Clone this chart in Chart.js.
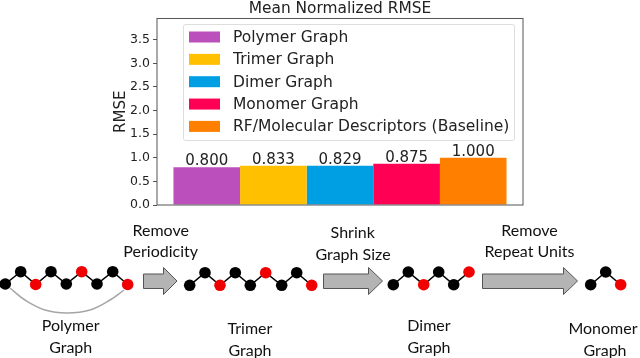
<!DOCTYPE html>
<html>
<head>
<meta charset="utf-8">
<script src="https://cdn.jsdelivr.net/npm/chart.js@4"></script>
<style>
html, body { margin: 0; padding: 0; background: #fff; }
#wrap { position: relative; width: 640px; height: 358px; overflow: hidden; }
canvas { position: absolute; left: 0; top: 0; }
.lbl { position: absolute; transform: translate(-50%, -50%); font: 16px Lato, sans-serif; color: #111; white-space: nowrap; }
</style>
</head>
<body>
<div id="wrap">
  <canvas id="bar_chart" width="640" height="358"></canvas>
  <canvas id="graph_chart" width="640" height="358"></canvas>
</div>
<script>
// bar chart data
const seriesNames = ['Polymer Graph', 'Trimer Graph', 'Dimer Graph', 'Monomer Graph', 'RF/Molecular Descriptors (Baseline)'];
const seriesValues = [0.800, 0.833, 0.829, 0.875, 1.000];
const seriesColors = ['#BB4FBB', '#FFC000', '#009FE3', '#FF0055', '#FF8000'];

// molecule graphs (page pixels)
const polymerX = [5.3, 20.7, 35.7, 51, 66.3, 81.7, 97, 112.7, 127.7];
const polymerY = [284, 271.7, 284.5, 271.7, 284, 271.7, 284, 271.7, 284.5];
const polymerRed = [2, 5, 8];
const trimerX = [189.7, 205, 220, 235.3, 250.3, 265.7, 281.7, 296.7, 311.7];
const trimerY = [285.3, 272.7, 285.3, 272.7, 285.3, 272.7, 285.3, 272.7, 285.3];
const trimerRed = [2, 5, 8];
const dimerX = [393.3, 408.3, 423.7, 438.7, 453.7, 469];
const dimerY = [284.7, 272, 284.7, 272, 284.7, 272];
const dimerRed = [2, 5];
const monomerX = [590.7, 605.7, 620.7];
const monomerY = [284.7, 272, 284.7];
const monomerRed = [2];
const loopX = [10, 25, 45, 67, 90, 110, 124];
const loopY = [288, 300, 310, 313, 310, 300, 290];

const captions = [
  ['Remove', 160.7, 229], ['Periodicity', 160.7, 250],
  ['Polymer', 70.7, 324], ['Graph', 70.7, 345.5],
  ['Trimer', 250, 326.5], ['Graph', 250, 348.5],
  ['Shrink', 352.7, 231], ['Graph Size', 353, 252.5],
  ['Dimer', 429, 324], ['Graph', 429, 345.5],
  ['Remove', 529.5, 229], ['Repeat Units', 529.5, 250],
  ['Monomer', 603, 326.5], ['Graph', 605, 348.5]
];

function barFrame(chart) {
  const a = chart.chartArea, ctx = chart.ctx;
  ctx.save();
  ctx.strokeStyle = '#555';
  ctx.lineWidth = 1;
  ctx.strokeRect(a.left, a.top, a.right - a.left, a.bottom - a.top);
  ctx.restore();
}

const barExtras = {
  id: 'barExtras',
  afterDatasetsDraw(chart) {
    const ctx = chart.ctx;
    barFrame(chart);
    ctx.save();
    // value labels
    ctx.fillStyle = '#222';
    ctx.font = '15px "DejaVu Sans"';
    ctx.textAlign = 'center';
    ctx.textBaseline = 'bottom';
    chart.data.datasets.forEach((ds, i) => {
      const bar = chart.getDatasetMeta(i).data[0];
      ctx.fillText(ds.data[0].toFixed(3), bar.x, bar.y + 1.5);
    });
    // legend inside the axes
    ctx.fillStyle = '#fff';
    ctx.strokeStyle = '#ddd';
    ctx.beginPath();
    ctx.roundRect(183.5, 24.5, 331, 116, 2);
    ctx.fill();
    ctx.stroke();
    ctx.font = '15.5px "DejaVu Sans"';
    ctx.textAlign = 'left';
    ctx.textBaseline = 'middle';
    chart.data.datasets.forEach((ds, i) => {
      const y = 37 + i * 22.35;
      ctx.fillStyle = ds.backgroundColor;
      ctx.fillRect(189, y - 5.5, 31, 11);
      ctx.fillStyle = '#222';
      ctx.fillText(ds.label, 233, y + 1);
    });
    ctx.restore();
  }
};

new Chart(document.getElementById('bar_chart'), {
  type: 'bar',
  data: {
    labels: [''],
    datasets: seriesNames.map((name, i) => ({
      label: name,
      data: [seriesValues[i]],
      backgroundColor: seriesColors[i]
    }))
  },
  options: {
    responsive: false,
    animation: false,
    events: [],
    barPercentage: 1,
    categoryPercentage: 0.91,
    layout: { padding: { left: 112, right: 117, top: 0, bottom: 153 } },
    plugins: {
      legend: { display: false },
      tooltip: { enabled: false },
      title: {
        display: true,
        fullSize: false,
        text: 'Mean Normalized RMSE',
        color: '#222',
        font: { family: 'DejaVu Sans', size: 15.4, weight: 'normal' },
        padding: { top: 0, bottom: 0 }
      }
    },
    scales: {
      x: {
        ticks: { display: false },
        grid: { display: false },
        border: { display: false },
        afterFit(s) { s.height = 0; }
      },
      y: {
        min: 0,
        max: 3.95,
        afterFit(s) { s.width = 45; },
        title: {
          display: true,
          text: 'RMSE',
          color: '#222',
          font: { family: 'DejaVu Sans', size: 15 },
          padding: 0
        },
        border: { display: false },
        grid: { drawOnChartArea: false, tickLength: 4, color: '#555' },
        ticks: {
          stepSize: 0.5,
          includeBounds: false,
          color: '#222',
          padding: 3,
          font: { family: 'DejaVu Sans', size: 12.5 },
          callback: v => v.toFixed(1)
        }
      }
    }
  },
  plugins: [barExtras]
});

function xy(xs, ys) {
  return xs.map((x, i) => ({ x: x, y: ys[i] }));
}

function moleculeSet(xs, ys, red) {
  return {
    data: xy(xs, ys),
    showLine: true,
    borderColor: '#000',
    borderWidth: 1.5,
    pointRadius: 5.8,
    pointBorderWidth: 0,
    pointBackgroundColor: xs.map((x, i) => red.includes(i) ? '#F00000' : '#000')
  };
}

function arrowSet(x0, x1, x2) {
  // grey block arrow: tail, shoulder, tip
  return {
    data: xy([x0, x1, x1, x2, x1, x1, x0, x0], [274, 274, 267.5, 281, 294.5, 288.5, 288.5, 274]),
    showLine: true,
    fill: 'shape',
    backgroundColor: '#B4B4B4',
    borderColor: '#555',
    borderWidth: 1,
    pointRadius: 0
  };
}

new Chart(document.getElementById('graph_chart'), {
  type: 'scatter',
  data: {
    datasets: [
      { data: xy(loopX, loopY), showLine: true, tension: 0.4, borderColor: '#A6A6A6', borderWidth: 1.5, pointRadius: 0 },
      arrowSet(143.5, 163.5, 177),
      arrowSet(323.5, 368.5, 382.5),
      arrowSet(482.5, 563.5, 577.5),
      moleculeSet(polymerX, polymerY, polymerRed),
      moleculeSet(trimerX, trimerY, trimerRed),
      moleculeSet(dimerX, dimerY, dimerRed),
      moleculeSet(monomerX, monomerY, monomerRed)
    ]
  },
  options: {
    responsive: false,
    animation: false,
    events: [],
    clip: false,
    layout: { autoPadding: false },
    plugins: { legend: { display: false }, tooltip: { enabled: false } },
    scales: {
      x: { display: false, min: 0, max: 640 },
      y: { display: false, min: 0, max: 358, reverse: true }
    }
  }
});

const wrap = document.getElementById('wrap');
captions.forEach(c => {
  const d = document.createElement('div');
  d.className = 'lbl';
  d.textContent = c[0];
  d.style.left = c[1] + 'px';
  d.style.top = c[2] + 'px';
  wrap.appendChild(d);
});
</script>
</body>
</html>
